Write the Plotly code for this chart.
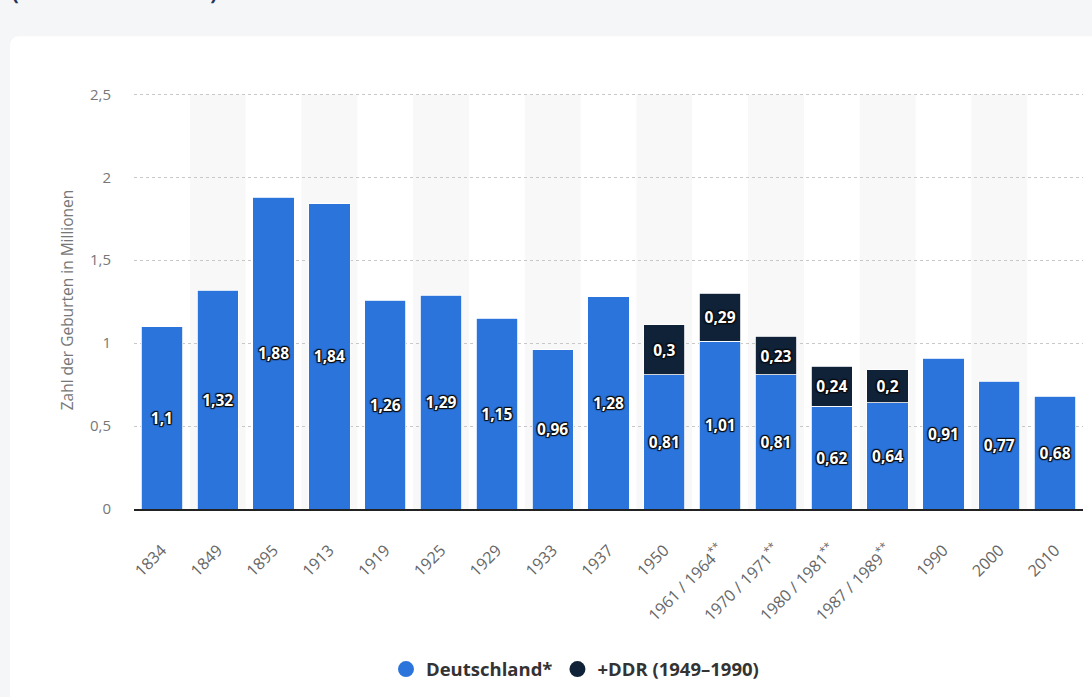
import plotly.graph_objects as go

categories = ["1834", "1849", "1895", "1913", "1919", "1925", "1929", "1933", "1937", "1950",
              "1961 / 1964<sup>**</sup>", "1970 / 1971<sup>**</sup>", "1980 / 1981<sup>**</sup>",
              "1987 / 1989<sup>**</sup>", "1990", "2000", "2010"]
deutschland = [1.1, 1.32, 1.88, 1.84, 1.26, 1.29, 1.15, 0.96, 1.28, 0.81, 1.01, 0.81, 0.62, 0.64, 0.91, 0.77, 0.68]
ddr = [None, None, None, None, None, None, None, None, None, 0.3, 0.29, 0.23, 0.24, 0.2, None, None, None]
y_ticks = [0, 0.5, 1, 1.5, 2, 2.5]
y_tick_labels = ["0", "0,5", "1", "1,5", "2", "2,5"]

BLUE = "#2a74dc"
NAVY = "#0f2238"
FONT = "'Open Sans', Lato, sans-serif"

def fmt(v):
    return "" if v is None else ("%g" % v).replace(".", ",")

shadow = ("1px 1px 1px #0a0a0a, -1px -1px 1px #0a0a0a, 1px -1px 1px #0a0a0a, -1px 1px 1px #0a0a0a, "
          "0 0 2px #000")
label_font = dict(color="white", size=15.5, family=FONT, weight="bold", shadow=shadow)

fig = go.Figure()
fig.add_trace(go.Bar(
    x=categories, y=deutschland, name="Deutschland*", marker=dict(color=BLUE, line=dict(color="white", width=0.8)),
    text=[fmt(v) for v in deutschland], textposition="inside", insidetextanchor="middle", textangle=0,
    textfont=label_font, showlegend=False))
fig.add_trace(go.Bar(
    x=categories, y=ddr, name="+DDR (1949–1990)", marker=dict(color=NAVY, line=dict(color="white", width=0.8)),
    text=[fmt(v) for v in ddr], textposition="inside", insidetextanchor="middle", textangle=0,
    textfont=label_font, showlegend=False))
# legend entries with circle markers
fig.add_trace(go.Scatter(x=[None], y=[None], mode="markers", name="Deutschland*",
                         marker=dict(color=BLUE, size=18, symbol="circle")))
fig.add_trace(go.Scatter(x=[None], y=[None], mode="markers", name="+DDR (1949–1990)",
                         marker=dict(color=NAVY, size=18, symbol="circle")))

YMAX = 2.52
L, R, B = 134, 9, 179
W, H = 1092, 697
unit = (518 - 94) / 2.5
T = int(round(518 - YMAX * unit))
pw, ph = W - L - R, H - T - B

def px(x):
    return (x - L) / pw

def py(y):
    return (H - B - y) / ph

shapes = []
# white card with rounded corners
x0, x1, y0, y1 = px(10), px(1110), py(35), py(720)
rx, ry = 10 / pw, 10 / ph
shapes.append(dict(
    type="path", xref="paper", yref="paper", layer="below",
    path=(f"M {x0+rx},{y0} L {x1},{y0} L {x1},{y1} L {x0},{y1} L {x0},{y0-ry} "
          f"Q {x0},{y0} {x0+rx},{y0} Z"),
    fillcolor="white", line=dict(width=0)))
# alternating column bands
for i in range(len(categories)):
    if i % 2 == 1:
        shapes.append(dict(type="rect", xref="x", yref="y", layer="below",
                           x0=i - 0.5, x1=i + 0.5, y0=0, y1=2.5,
                           fillcolor="#f8f8f8", line=dict(width=0)))

fig.update_layout(
    width=W, height=H,
    margin=dict(l=L, r=R, t=T, b=B),
    paper_bgcolor="#f5f6f8", plot_bgcolor="rgba(0,0,0,0)",
    barmode="stack", bargap=0.26,
    font=dict(family=FONT, color="#666"),
    shapes=shapes,
    xaxis=dict(tickangle=-45, tickfont=dict(size=16, color="#666"), showgrid=False,
               showline=True, linecolor="#222", linewidth=1.5,
               ticks="outside", ticklen=24, tickcolor="rgba(0,0,0,0)", range=[-0.5, 16.5]),
    yaxis=dict(range=[0, YMAX], tickvals=y_ticks, ticktext=y_tick_labels,
               tickfont=dict(size=15, color="#777"), ticklabelstandoff=22,
               showgrid=True, gridcolor="#c8c8c8", griddash="dot", gridwidth=1,
               zeroline=False,
               title=dict(text="Zahl der Geburten in Millionen", font=dict(size=15.5, color="#777"), standoff=12)),
    legend=dict(orientation="h", traceorder="normal", x=px(575), xanchor="center", y=py(682), yanchor="middle",
                font=dict(size=18.5, color="#333", family=FONT, weight="bold"), bgcolor="rgba(0,0,0,0)",
                itemwidth=30),
    annotations=[dict(text="(Anzahl in Millionen)", xref="paper", yref="paper", x=px(10), y=py(6),
                      xanchor="left", yanchor="bottom", showarrow=False,
                      font=dict(size=20, color="#1d3557", family=FONT, weight="bold"))],
)

fig.write_html("out.html")
